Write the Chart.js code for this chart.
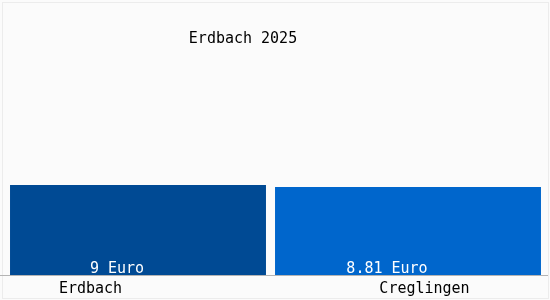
<!DOCTYPE html>
<html>
<head>
<meta charset="utf-8">
<style>
  html, body { margin: 0; padding: 0; background: #ffffff; }
  #wrap { width: 550px; height: 300px; position: relative; }
</style>
<script src="https://cdn.jsdelivr.net/npm/chart.js@4"></script>
</head>
<body>
<div id="wrap"><canvas id="c" width="550" height="300"></canvas></div>
<script>
const titleText = "Erdbach 2025";
const categories = ["Erdbach", "Creglingen"];
const values = [9, 8.81];
const valueLabels = ["9 Euro", "8.81 Euro"];
const barColors = ["#004a94", "#0066cc"];

const FONT = '15px "DejaVu Sans Mono", "Liberation Mono", monospace';
const barPercents = [0.948, 0.985];

const decor = {
  id: 'decor',
  beforeDraw(chart) {
    const ctx = chart.ctx;
    ctx.save();
    ctx.fillStyle = '#fbfbfb';
    ctx.fillRect(0, 0, chart.width, chart.height);
    ctx.strokeStyle = '#ececec';
    ctx.lineWidth = 1;
    ctx.strokeRect(2.5, 2.5, chart.width - 4, chart.height - 4);
    ctx.restore();
  },
  afterDatasetsDraw(chart) {
    const ctx = chart.ctx;
    const xs = chart.scales.x;
    const area = chart.chartArea;
    ctx.save();
    // axis line
    ctx.strokeStyle = '#b4b4b4';
    ctx.lineWidth = 1;
    ctx.beginPath();
    ctx.moveTo(0, area.bottom + 0.5);
    ctx.lineTo(chart.width - 2, area.bottom + 0.5);
    ctx.stroke();

    ctx.font = FONT;
    ctx.textBaseline = 'alphabetic';
    ctx.textAlign = 'center';
    // value labels inside bars
    ctx.fillStyle = '#ffffff';
    categories.forEach((c, i) => {
      const bar = chart.getDatasetMeta(i).data[i];
      ctx.fillText(valueLabels[i], bar.x - 21, area.bottom - 2);
    });
    // category labels
    const catOffsets = [-47.5, 16.5];
    ctx.fillStyle = '#000000';
    categories.forEach((c, i) => {
      ctx.fillText(c, xs.getPixelForValue(i) + catOffsets[i], area.bottom + 18);
    });
    // title
    ctx.fillText(titleText, chart.width / 2 - 32, 43);
    ctx.restore();
  }
};

new Chart(document.getElementById('c'), {
  type: 'bar',
  data: {
    labels: categories,
    datasets: categories.map((c, i) => ({
      label: c,
      data: values.map((v, j) => (j === i ? v : null)),
      backgroundColor: barColors[i],
      borderWidth: 0,
      grouped: false,
      barPercentage: barPercents[i],
      categoryPercentage: 1
    }))
  },
  options: {
    responsive: false,
    animation: false,
    devicePixelRatio: 1,
    layout: { padding: { left: 3, right: 7, top: 5, bottom: 25 } },
    plugins: { legend: { display: false }, tooltip: { enabled: false }, title: { display: false } },
    scales: {
      x: { display: false },
      y: { display: false, min: 0, max: 27 }
    }
  },
  plugins: [decor]
});
</script>
</body>
</html>
